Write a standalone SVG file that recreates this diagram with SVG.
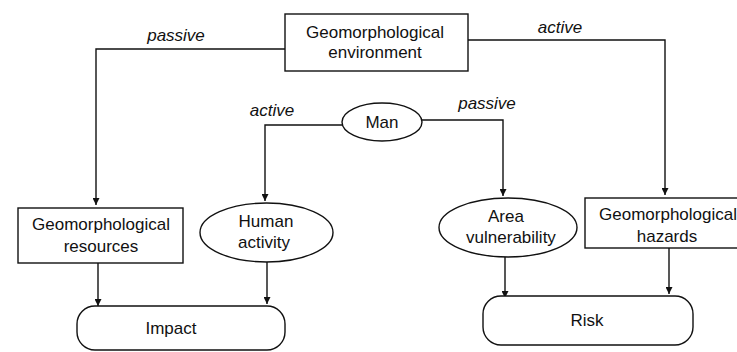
<svg xmlns="http://www.w3.org/2000/svg" width="737" height="352" viewBox="0 0 737 352">
<defs>
<style>
.box{fill:#fff;stroke:#111;stroke-width:1.4}
.t{font-family:"Liberation Sans",Arial,sans-serif;font-size:17px;fill:#111;text-anchor:middle}
.lbl{font-family:"Liberation Sans",Arial,sans-serif;font-size:17px;font-style:italic;fill:#111;text-anchor:middle}
.c{fill:none;stroke:#111;stroke-width:1.4}
</style>
<marker id="ah" viewBox="0 0 10 10" refX="10" refY="5" markerWidth="7" markerHeight="7" markerUnits="userSpaceOnUse" orient="auto">
<path d="M0,0 L10,5 L0,10 z" fill="#111"/>
</marker>
</defs>
<rect width="737" height="352" fill="#fff"/>
<g id="connectors">
<polyline class="c" points="285,49 96,49 96,205" marker-end="url(#ah)"/>
<polyline class="c" points="468,40 665,40 665,195" marker-end="url(#ah)"/>
<polyline class="c" points="343,125 265,125 265,201" marker-end="url(#ah)"/>
<polyline class="c" points="422,120 503,120 503,196" marker-end="url(#ah)"/>
<line class="c" x1="98" y1="263" x2="98" y2="306" marker-end="url(#ah)"/>
<line class="c" x1="267" y1="262" x2="267" y2="304" marker-end="url(#ah)"/>
<line class="c" x1="505" y1="257" x2="505" y2="298" marker-end="url(#ah)"/>
<line class="c" x1="669" y1="248" x2="669" y2="294" marker-end="url(#ah)"/>
<text class="lbl" x="176" y="41">passive</text>
<text class="lbl" x="560" y="33">active</text>
<text class="lbl" x="272" y="116">active</text>
<text class="lbl" x="487" y="109">passive</text>
</g>
<g id="env">
<rect class="box" x="285" y="14" width="183" height="57"/>
<text class="t" x="375" y="38">Geomorphological</text>
<text class="t" x="375" y="58">environment</text>
</g>
<g id="man">
<ellipse class="box" cx="382" cy="122" rx="40" ry="19"/>
<text class="t" x="382" y="128">Man</text>
</g>
<g id="resources">
<rect class="box" x="18" y="208" width="165" height="55"/>
<text class="t" x="101" y="230">Geomorphological</text>
<text class="t" x="101" y="252">resources</text>
</g>
<g id="human">
<ellipse class="box" cx="266.5" cy="232.5" rx="66.5" ry="29.5"/>
<text class="t" x="266" y="227">Human</text>
<text class="t" x="264" y="248">activity</text>
</g>
<g id="vulnerability">
<ellipse class="box" cx="508" cy="227.5" rx="69" ry="29.5"/>
<text class="t" x="506" y="222">Area</text>
<text class="t" x="511" y="243">vulnerability</text>
</g>
<g id="hazards">
<rect class="box" x="585" y="198" width="160" height="50"/>
<text class="t" x="668" y="220">Geomorphological</text>
<text class="t" x="667" y="242">hazards</text>
</g>
<g id="impact">
<rect class="box" x="77" y="306" width="208" height="44" rx="18" ry="18"/>
<text class="t" x="171" y="334">Impact</text>
</g>
<g id="risk">
<rect class="box" x="483" y="296" width="210" height="49" rx="18" ry="18"/>
<text class="t" x="587" y="326">Risk</text>
</g>
</svg>
